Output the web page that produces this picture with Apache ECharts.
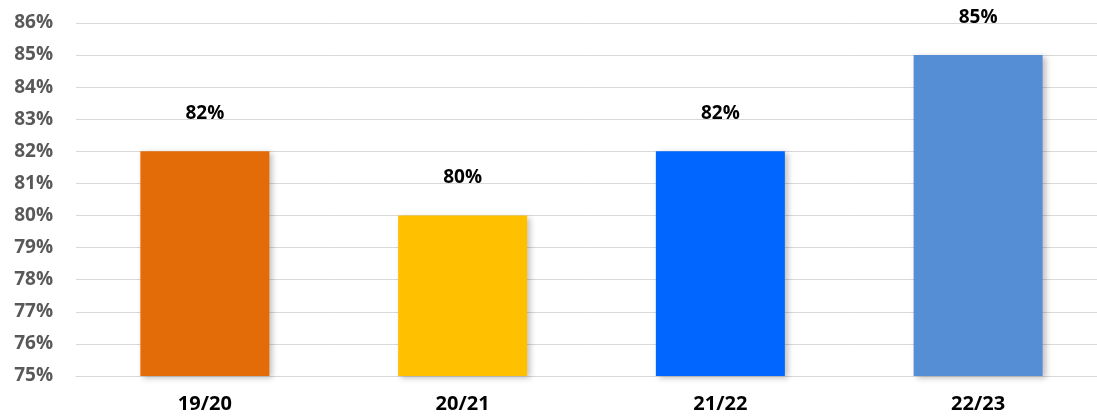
<!DOCTYPE html>
<html>
<head>
<meta charset="utf-8">
<script src="https://cdn.jsdelivr.net/npm/echarts@6/dist/echarts.min.js"></script>
<style>
  html, body { margin: 0; padding: 0; background: #fff; overflow: hidden; }
  #chart { width: 1110px; height: 417px; }
</style>
</head>
<body>
<div id="chart"></div>
<script>
const seasons = ['19/20', '20/21', '21/22', '22/23'];
const rates = [82, 80, 82, 85];
const barColors = ['#E36C09', '#FFC000', '#0066FF', '#558ED5'];

const myChart = echarts.init(document.getElementById('chart'));
myChart.setOption({
  animation: false,
  grid: { left: 76, right: 3, top: 23, bottom: 41 },
  xAxis: {
    type: 'category',
    data: seasons,
    axisLine: { show: true, lineStyle: { color: '#d9d9d9', width: 1 } },
    axisTick: { show: false },
    axisLabel: {
      color: '#000',
      fontWeight: 'bold',
      fontSize: 20,
      fontFamily: 'Open Sans',
      margin: 18,
    },
  },
  yAxis: {
    type: 'value',
    min: 75,
    max: 86,
    interval: 1,
    axisLine: { show: false },
    axisTick: { show: false },
    splitLine: { lineStyle: { color: '#d9d9d9', width: 1 } },
    axisLabel: {
      formatter: '{value}%',
      color: '#595959',
      fontWeight: 'bold',
      fontSize: 19,
      fontFamily: 'Open Sans',
      margin: 23,
    },
  },
  series: [{
    type: 'bar',
    barWidth: 129,
    data: rates.map((v, i) => ({
      value: v,
      itemStyle: { color: barColors[i] },
    })),
    itemStyle: {
      shadowColor: 'rgba(0,0,0,0.25)',
      shadowBlur: 6,
      shadowOffsetX: 3,
      shadowOffsetY: 2,
    },
    label: {
      show: true,
      position: 'top',
      distance: 28,
      formatter: '{c}%',
      color: '#000',
      fontWeight: 'bold',
      fontSize: 19,
      fontFamily: 'Open Sans',
    },
  }],
});
</script>
</body>
</html>
